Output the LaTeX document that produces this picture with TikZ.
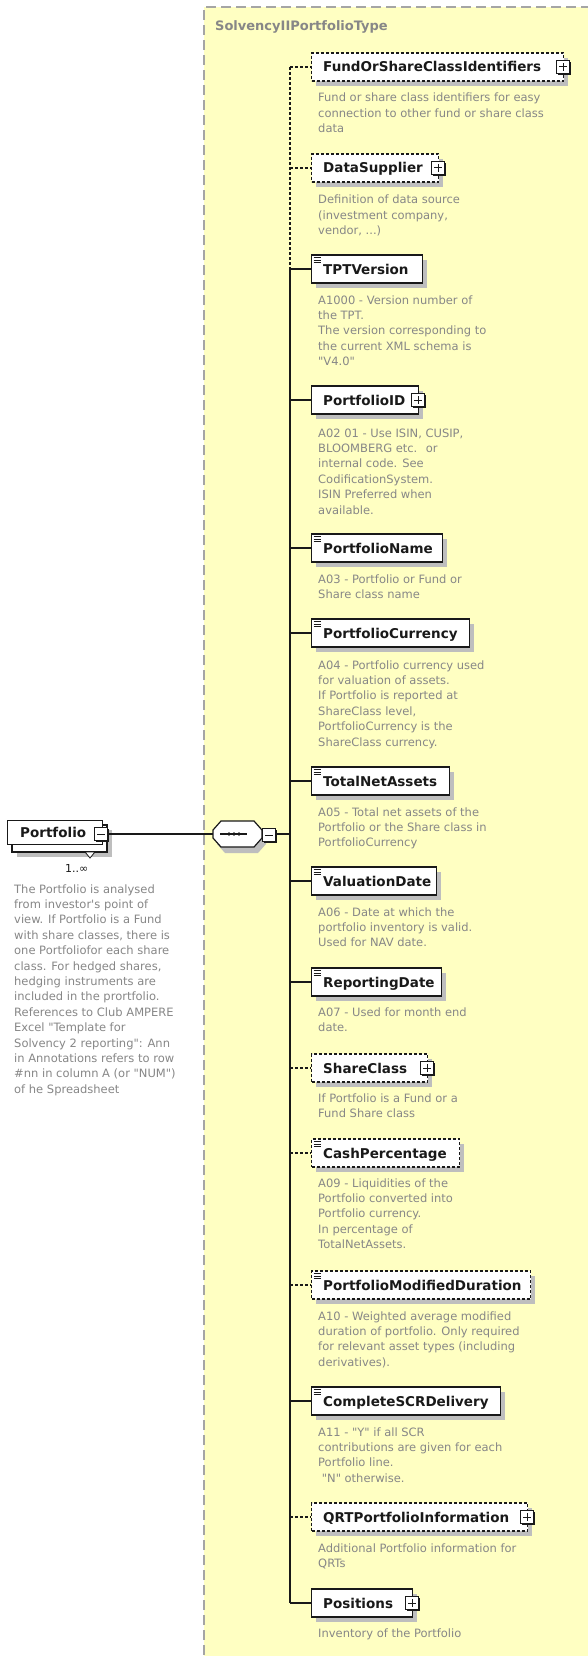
\documentclass[tikz,border=0pt]{standalone}
\usepackage{fontspec}
\setmainfont{DejaVu Sans}[Ligatures=TeXOff]
\definecolor{yel}{RGB}{255,255,194}
\definecolor{dgray}{RGB}{135,135,135}
\definecolor{shad}{RGB}{190,190,190}
\definecolor{bord}{RGB}{165,165,165}
\definecolor{ink}{RGB}{25,25,25}
\newcommand\dtext[1]{\vtop{\baselineskip=15.4pt\lineskip=0pt\lineskiplimit=-20pt\let\\\cr\halign{##\hfil\cr#1\crcr}}}
\tikzset{
  ebox/.style={draw=ink, fill=white, line width=1.3pt, minimum height=28, inner sep=0pt, anchor=west},
  optbox/.style={dash pattern=on 3pt off 2pt, line width=1.2pt},
  reqbox/.style={},
  ename/.style={font=\bfseries\fontsize{13.5}{15}\selectfont, text=ink, inner sep=0pt, anchor=base west},
  desc/.style={font=\fontsize{11.5}{15.4}\selectfont, text=dgray, inner sep=0pt, anchor=base west},
  reqconn/.style={draw=ink, line width=1.3pt},
  optconn/.style={draw=ink, line width=1.2pt, dash pattern=on 3pt off 2pt},
}
\newcommand\xelem[6]{%
  \fill[shad] (316,#2-9) rectangle (#3+5,#2+19);
  \node[ebox,#4box, minimum width={#3-311}] (#1) at (311,#2) {};
  \node[ename] (#1-n) at (323,#2+5) {#6};
  \coordinate (#1-s) at (290,#2);
  \draw[#4conn] (#1-s) -- (#1.west);
  \ifx#5p\xplus{#3}{#2}\else\ifx#5l\xlines{#2}\fi\fi
}
\newcommand\xplus[2]{%
  \fill[ink] (#1-5,#2-5) rectangle (#1+8,#2+8);
  \draw[ink, fill=white, line width=0.8pt] (#1-6.5,#2-6.5) rectangle (#1+6.5,#2+6.5);
  \draw[ink, line width=1pt] (#1-4,#2) -- (#1+4,#2) (#1,#2-4) -- (#1,#2+4);
}
\newcommand\xminus[2]{%
  \fill[ink] (#1-5,#2-5) rectangle (#1+8,#2+8);
  \draw[ink, fill=white, line width=0.8pt] (#1-6.5,#2-6.5) rectangle (#1+6.5,#2+6.5);
  \draw[ink, line width=1pt] (#1-4,#2) -- (#1+4,#2);
}
\newcommand\xlines[1]{%
  \foreach \k in {0,2.3,4.6} \draw[ink, line width=0.6pt] (313.5,#1-11.5+\k) -- (320.5,#1-11.5+\k);
}
\begin{document}
\begin{tikzpicture}[x=1pt,y=-1pt]
\useasboundingbox (0,0) rectangle (588,1656);
\fill[white] (0,0) rectangle (588,1656);
% type container
\fill[yel] (204,7) rectangle (600,1670);
\draw[bord, line width=2pt, dash pattern=on 10pt off 5pt] (204,1670) -- (204,7) -- (600,7);
\node[font=\bfseries\fontsize{13}{15}\selectfont, text=dgray, inner sep=0pt, anchor=base west] (title) at (215,31) {SolvencyIIPortfolioType};

% children
\xelem{fosc}{67}{563}{opt}{p}{FundOrShareClassIdentifiers}
\node[desc] (fosc-d) at (318,102) {\dtext{Fund or share class identifiers for easy\\connection to other fund or share class\\data}};
\xelem{ds}{168}{438}{opt}{p}{DataSupplier}
\node[desc] (ds-d) at (318,204) {\dtext{Definition of data source\\(investment company,\\vendor, ...)}};
\xelem{tpt}{269}{422}{req}{l}{TPTVersion}
\node[desc] (tpt-d) at (318,304) {\dtext{A1000 - Version number of\\the TPT.\\The version corresponding to\\the current XML schema is\\"V4.0"}};
\xelem{pid}{400}{418}{req}{p}{PortfolioID}
\node[desc] (pid-d) at (318,437) {\dtext{A02 01 - Use ISIN, CUSIP,\\BLOOMBERG etc.~ or\\internal code. See\\CodificationSystem.\\ISIN Preferred when\\available.}};
\xelem{pname}{548}{442}{req}{l}{PortfolioName}
\node[desc] (pname-d) at (318,583) {\dtext{A03 - Portfolio or Fund or\\Share class name}};
\xelem{pcur}{633}{469}{req}{l}{PortfolioCurrency}
\node[desc] (pcur-d) at (318,669) {\dtext{A04 - Portfolio currency used\\for valuation of assets.\\If Portfolio is reported at\\ShareClass level,\\PortfolioCurrency is the\\ShareClass currency.}};
\xelem{tna}{781}{449}{req}{l}{TotalNetAssets}
\node[desc] (tna-d) at (318,816) {\dtext{A05 - Total net assets of the\\Portfolio or the Share class in\\PortfolioCurrency}};
\xelem{vd}{881}{436}{req}{l}{ValuationDate}
\node[desc] (vd-d) at (318,916) {\dtext{A06 - Date at which the\\portfolio inventory is valid.\\Used for NAV date.}};
\xelem{rd}{982}{441}{req}{l}{ReportingDate}
\node[desc] (rd-d) at (318,1016) {\dtext{A07 - Used for month end\\date.}};
\xelem{sc}{1068}{427}{opt}{p}{ShareClass}
\node[desc] (sc-d) at (318,1102) {\dtext{If Portfolio is a Fund or a\\Fund Share class}};
\xelem{cash}{1153}{459}{opt}{l}{CashPercentage}
\node[desc] (cash-d) at (318,1187) {\dtext{A09 - Liquidities of the\\Portfolio converted into\\Portfolio currency.\\In percentage of\\TotalNetAssets.}};
\xelem{pmd}{1285}{530}{opt}{l}{PortfolioModifiedDuration}
\node[desc] (pmd-d) at (318,1320) {\dtext{A10 - Weighted average modified\\duration of portfolio. Only required\\for relevant asset types (including\\derivatives).}};
\xelem{scr}{1401}{500}{req}{l}{CompleteSCRDelivery}
\node[desc] (scr-d) at (318,1436) {\dtext{A11 - "Y" if all SCR\\contributions are given for each\\Portfolio line.\\\ "N" otherwise.}};
\xelem{qrt}{1517}{527}{opt}{p}{QRTPortfolioInformation}
\node[desc] (qrt-d) at (318,1552) {\dtext{Additional Portfolio information for\\QRTs}};
\xelem{pos}{1603}{412}{req}{p}{Positions}
\node[desc] (pos-d) at (318,1637) {\dtext{Inventory of the Portfolio}};

% spine
\draw[optconn] (fosc-s) -- (tpt-s);
\draw[reqconn] (tpt-s) -- (pos-s);

% sequence compositor
\fill[shad] (217,827) -- (258,827) -- (266,836) -- (266,844) -- (258,853) -- (225,853) -- (217,844) -- cycle;
\draw[ink, fill=white, line width=1.2pt] (221,821) -- (254,821) -- (262,830) -- (262,838) -- (254,847) -- (221,847) -- (213,838) -- (213,830) -- cycle;
\coordinate (seq-w) at (213,834);
\draw[ink, line width=1.2pt] (220,834) -- (247,834);
\foreach \dx in {229,234,239} \fill[ink] (\dx,834) circle (1.9);
\xminus{269}{835}
\coordinate (seq-e) at (276,834);
\coordinate (seq-j) at (290,834);
\draw[reqconn] (seq-e) -- (seq-j);

% Portfolio element
\fill[shad] (17,830) rectangle (112,857);
\draw[ink, fill=white, line width=1.2pt] (12,825) rectangle (107,852);
\node[draw=ink, fill=white, line width=1.2pt, minimum width=95, minimum height=24, anchor=north west, inner sep=0pt] (port) at (7,820) {};
\node[ename] (port-n) at (20,837) {Portfolio};
\draw[ink, fill=white, line width=0.8pt] (85,852) -- (95,852) -- (90,858) -- cycle;
\xminus{101}{834}
\coordinate (port-e) at (108,834);
\draw[reqconn] (port-e) -- (seq-w);
\node[font=\fontsize{11}{12}\selectfont, text=ink, inner sep=0pt, anchor=base west] (card) at (65,872) {1..∞};
\node[desc] (port-d) at (14,893) {\dtext{The Portfolio is analysed\\from investor's point of\\view. If Portfolio is a Fund\\with share classes, there is\\one Portfoliofor each share\\class. For hedged shares,\\hedging instruments are\\included in the prortfolio.\\References to Club AMPERE\\Excel "Template for\\Solvency 2 reporting": Ann\\in Annotations refers to row\\\#nn in column A (or "NUM")\\of he Spreadsheet}};
\end{tikzpicture}
\end{document}
